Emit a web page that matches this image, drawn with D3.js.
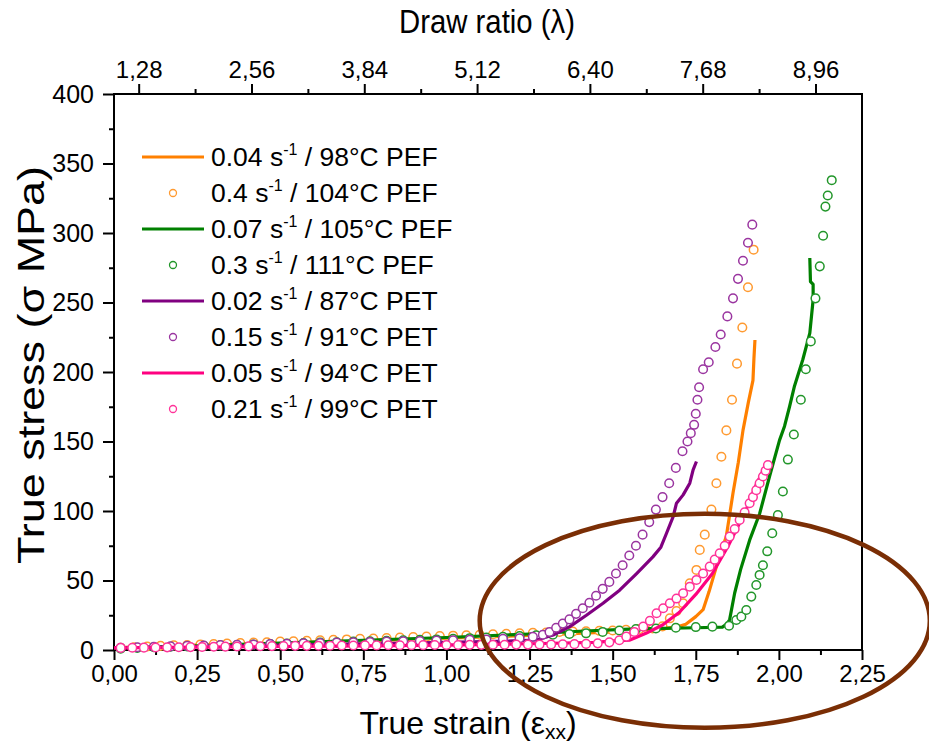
<!DOCTYPE html>
<html>
<head>
<meta charset="utf-8">
<script src="https://cdn.jsdelivr.net/npm/d3@7/dist/d3.min.js"></script>
<style>
    body { margin: 0; background: #ffffff; }
    svg text { font-family: Arial, "Liberation Sans", sans-serif; fill: #000; }
</style>
</head>
<body>
<div id="chart"></div>
<script>
// ---- data: [true strain, true stress (MPa)] ----
let strainTicks = [0, 0.25, 0.5, 0.75, 1.0, 1.25, 1.5, 1.75, 2.0, 2.25];
let stressTicks = [0, 50, 100, 150, 200, 250, 300, 350, 400];
let drawRatioTicks = [1.28, 2.56, 3.84, 5.12, 6.40, 7.68, 8.96];

let legendRates = ["0.04", "0.4", "0.07", "0.3", "0.02", "0.15", "0.05", "0.21"];
let legendConditions = ["98°C PEF", "104°C PEF", "105°C PEF", "111°C PEF",
                        "87°C PET", "91°C PET", "94°C PET", "99°C PET"];

let pef004Line = [[0,1.5],[0.1,2.5],[0.25,3.5],[0.5,5],[0.75,6.5],[1.0,8.5],[1.25,10.5],[1.5,13],[1.6,14.5],
    [1.66,15.5],[1.70,17],[1.72,18.5],[1.75,24],[1.772,29],[1.79,42],[1.812,60],[1.842,82],[1.862,113],
    [1.878,135],[1.892,158],[1.908,178],[1.922,194],[1.925,210],[1.928,223]];

let pef04Circles = [[0.02,1.5],[0.06,2],[0.1,2.5],[0.14,3],[0.18,3.3],[0.22,3.6],[0.26,4],[0.3,4.3],[0.34,4.6],
    [0.38,5],[0.42,5.3],[0.46,5.6],[0.5,6],[0.54,6.3],[0.58,6.6],[0.62,7],[0.66,7.3],[0.7,7.6],[0.74,8],
    [0.78,8.3],[0.82,8.6],[0.86,9],[0.9,9.3],[0.94,9.6],[0.98,10],[1.02,10.3],[1.06,10.6],[1.1,11],[1.14,11.3],
    [1.18,11.6],[1.22,12],[1.26,12.3],[1.3,12.6],[1.34,13],[1.38,13.2],[1.42,13.5],[1.46,13.8],[1.5,14],
    [1.54,14.5],[1.58,15],[1.62,15.5],[1.65,17],[1.672,22.8],[1.692,28],[1.712,33.6],[1.732,48],[1.752,57.6],
    [1.762,72],[1.777,83],[1.797,101],[1.812,120],[1.827,139],[1.842,158],[1.859,180],[1.874,206],[1.89,232],
    [1.907,261],[1.924,288]];

let pef007Line = [[0,1.5],[0.25,3],[0.5,5],[0.75,7],[1.0,9],[1.25,11.5],[1.4,13.5],[1.55,15],[1.65,15.5],
    [1.75,16],[1.83,16.5],[1.845,19],[1.852,22],[1.867,41],[1.885,58],[1.912,79],[1.942,98],[1.972,125],
    [2.002,151],[2.017,161],[2.032,175],[2.047,190],[2.072,209],[2.093,228],[2.103,252],[2.103,263],
    [2.095,265],[2.093,282]];

let pef03Circles = [[0.02,1],[0.07,1.5],[0.12,2],[0.17,2.3],[0.22,2.6],[0.27,3],[0.32,3.3],[0.37,3.6],[0.42,4],
    [0.47,4.3],[0.52,4.6],[0.57,5],[0.62,5.3],[0.67,5.6],[0.72,6],[0.77,6.3],[0.82,6.6],[0.87,7],[0.92,7.3],
    [0.97,7.6],[1.02,8],[1.07,8.5],[1.12,9],[1.17,9.5],[1.22,10],[1.27,10.5],[1.32,11],[1.37,11.5],[1.42,12],
    [1.47,13],[1.52,14],[1.57,15],[1.63,15.5],[1.69,16],[1.75,16.5],[1.8,16.8],[1.85,17.5],[1.872,21.6],
    [1.887,24],[1.902,28.8],[1.917,38.4],[1.932,46.8],[1.942,54],[1.952,61],[1.965,71],[1.98,84],[1.997,97],
    [2.012,114],[2.027,137],[2.045,155],[2.066,180],[2.081,202],[2.096,222],[2.11,253],[2.123,276],
    [2.133,298],[2.14,319],[2.147,327],[2.159,338]];

let pet002Line = [[0,1.5],[0.25,2.5],[0.5,3.5],[0.75,4.5],[1.0,5.5],[1.2,6.5],[1.271,7.2],[1.321,10.8],
    [1.371,16.8],[1.421,25],[1.471,33.6],[1.521,43],[1.572,55],[1.621,67],[1.645,74],[1.662,84],[1.682,96],
    [1.692,105.6],[1.712,111.6],[1.732,120],[1.742,129.6],[1.752,135.6]];

let pet015Circles = [[0.02,1.5],[0.07,2],[0.12,2.3],[0.17,2.6],[0.22,3],[0.27,3.2],[0.32,3.5],[0.37,3.8],
    [0.42,4],[0.47,4.3],[0.52,4.5],[0.57,4.8],[0.62,5],[0.67,5.3],[0.72,5.5],[0.77,5.8],[0.82,6],[0.87,6.3],
    [0.92,6.5],[0.97,6.8],[1.02,7],[1.07,7.3],[1.12,7.5],[1.17,8],[1.22,8.5],[1.26,9.5],[1.29,11],[1.31,13],
    [1.33,16],[1.35,19],[1.37,22],[1.39,26],[1.41,30],[1.43,34],[1.45,39],[1.47,44],[1.49,49],[1.51,55],
    [1.53,61],[1.55,68],[1.57,75],[1.59,83],[1.61,92],[1.63,101],[1.65,110],[1.67,120],[1.69,131],[1.71,143],
    [1.725,150],[1.735,156],[1.745,162],[1.75,170],[1.755,180],[1.76,189],[1.772,202],[1.789,207],
    [1.809,218],[1.825,227],[1.845,240],[1.862,253],[1.877,267],[1.892,280],[1.907,293],[1.92,306]];

let pet005Line = [[0,1.5],[0.25,2],[0.5,2.5],[0.75,3],[1.0,3.5],[1.25,4.5],[1.45,5.5],[1.5,6.5],[1.55,7],
    [1.57,9],[1.6,12],[1.65,18],[1.7,27],[1.75,40],[1.8,55],[1.85,76],[1.9,100],[1.93,118],[1.95,128],
    [1.965,135]];

let pet021Circles = [[0.02,1.5],[0.055,1.6],[0.09,1.7],[0.125,1.8],[0.16,1.9],[0.195,2],[0.23,2.1],[0.265,2.2],
    [0.3,2.3],[0.335,2.4],[0.37,2.5],[0.405,2.6],[0.44,2.7],[0.475,2.8],[0.51,2.9],[0.545,3],[0.58,3],
    [0.615,3.1],[0.65,3.1],[0.685,3.2],[0.72,3.2],[0.755,3.3],[0.79,3.3],[0.825,3.4],[0.86,3.4],[0.895,3.5],
    [0.93,3.5],[0.965,3.6],[1.0,3.6],[1.035,3.6],[1.07,3.7],[1.105,3.7],[1.14,3.8],[1.175,3.8],[1.21,3.9],
    [1.245,3.9],[1.28,4],[1.315,4],[1.35,4.1],[1.385,4.2],[1.42,4.4],[1.455,4.8],[1.49,5.5],[1.52,7],
    [1.541,9.6],[1.565,13],[1.592,16.8],[1.612,21],[1.632,26.4],[1.652,30],[1.672,33.6],[1.692,37],
    [1.712,40.8],[1.732,45.5],[1.752,50.4],[1.772,55],[1.792,60],[1.807,65],[1.822,69.6],[1.837,75],
    [1.852,81.6],[1.867,87],[1.882,93.6],[1.897,99],[1.912,105.6],[1.922,110],[1.932,115],[1.942,120],
    [1.952,124.8],[1.96,129],[1.967,133]];

class StrainChart {
    constructor(parentElement) {
        this.parentElement = parentElement;
        this.series = [
            {data: pef004Line, type: "line", color: "#ff8000"},
            {data: pef04Circles, type: "circle", color: "#ff9a30"},
            {data: pef007Line, type: "line", color: "#008000"},
            {data: pef03Circles, type: "circle", color: "#22962a"},
            {data: pet002Line, type: "line", color: "#800080"},
            {data: pet015Circles, type: "circle", color: "#9a35a0"},
            {data: pet005Line, type: "line", color: "#ff0080"},
            {data: pet021Circles, type: "circle", color: "#ff3399"}
        ];
        this.initVis();
    }

    initVis() {
        let vis = this;
        vis.margin = {top: 94, right: 67, bottom: 94, left: 114};
        vis.width = 929 - vis.margin.left - vis.margin.right;
        vis.height = 744 - vis.margin.top - vis.margin.bottom;

        vis.svg = d3.select("#" + vis.parentElement).append("svg")
            .attr("width", 929)
            .attr("height", 744)
            .append("g")
            .attr("transform", `translate(${vis.margin.left}, ${vis.margin.top})`);

        vis.x = d3.scaleLinear().domain([0, 2.25]).range([0, vis.width]);
        vis.y = d3.scaleLinear().domain([0, 400]).range([vis.height, 0]);
        // draw ratio = exp(strain), shown on a linear top scale
        vis.xTop = d3.scaleLinear().domain([1, Math.exp(2.25)]).range([0, vis.width]);

        let fmt = d => d3.format(".2f")(d).replace(".", ",");
        let topMinor = drawRatioTicks.map(d => d + 0.64).filter(d => d < Math.exp(2.25));

        // minor ticks first
        vis.svg.append("g").attr("class", "minor")
            .attr("transform", `translate(0, ${vis.height})`)
            .call(d3.axisBottom(vis.x).tickValues(d3.range(0.125, 2.25, 0.25)).tickSize(5).tickFormat(""));
        vis.svg.append("g").attr("class", "minor")
            .call(d3.axisLeft(vis.y).tickValues(d3.range(25, 400, 50)).tickSize(5).tickFormat(""));
        vis.svg.append("g").attr("class", "minor")
            .call(d3.axisTop(vis.xTop).tickValues(topMinor).tickSize(5).tickFormat(""));

        vis.svg.append("g").attr("class", "axis")
            .attr("transform", `translate(0, ${vis.height})`)
            .call(d3.axisBottom(vis.x).tickValues(strainTicks).tickSize(10).tickSizeOuter(0).tickPadding(5).tickFormat(fmt));
        vis.svg.append("g").attr("class", "axis yaxis")
            .call(d3.axisLeft(vis.y).tickValues(stressTicks).tickSize(11).tickSizeOuter(0).tickPadding(9).tickFormat(d3.format("d")));
        vis.svg.append("g").attr("class", "axis")
            .call(d3.axisTop(vis.xTop).tickValues(drawRatioTicks).tickSize(10).tickSizeOuter(0).tickPadding(6).tickFormat(fmt));

        vis.svg.selectAll(".axis text, .minor text").style("font-size", "24px");
        vis.svg.selectAll(".yaxis text").style("font-size", "25px");
        vis.svg.selectAll(".axis path, .minor path").attr("stroke", "none");
        vis.svg.selectAll(".axis line, .minor line").attr("stroke", "#000").attr("stroke-width", 2);

        // frame
        vis.svg.append("rect")
            .attr("width", vis.width).attr("height", vis.height)
            .attr("fill", "none").attr("stroke", "#000").attr("stroke-width", 2);

        // curves
        let line = d3.line().x(d => vis.x(d[0])).y(d => vis.y(d[1]));
        vis.series.forEach(s => {
            if (s.type === "line") {
                vis.svg.append("path").datum(s.data)
                    .attr("d", line)
                    .attr("fill", "none")
                    .attr("stroke", s.color)
                    .attr("stroke-width", 3.2)
                    .attr("stroke-linejoin", "round");
            } else {
                vis.svg.append("g").selectAll("circle")
                    .data(s.data).enter()
                    .append("circle")
                    .attr("cx", d => vis.x(d[0]))
                    .attr("cy", d => vis.y(d[1]))
                    .attr("r", 4.3)
                    .attr("fill", "#fff")
                    .attr("stroke", s.color)
                    .attr("stroke-width", 1.5);
            }
        });

        // legend
        let legend = vis.svg.append("g").attr("transform", "translate(28, 63)");
        vis.series.forEach((s, i) => {
            let row = legend.append("g").attr("transform", `translate(0, ${i * 36})`);
            if (s.type === "line") {
                row.append("line").attr("x1", 0).attr("x2", 62)
                    .attr("stroke", s.color).attr("stroke-width", 3.2);
            } else {
                row.append("circle").attr("cx", 31).attr("r", 3.5)
                    .attr("fill", "#fff").attr("stroke", s.color).attr("stroke-width", 1.3);
            }
            let t = row.append("text").attr("x", 69).attr("y", 9).style("font-size", "26.5px");
            t.append("tspan").text(legendRates[i] + " s");
            t.append("tspan").attr("dy", -11).style("font-size", "16px").text("-1");
            t.append("tspan").attr("dy", 11).text(" / " + legendConditions[i]);
        });

        // highlight ellipse
        vis.svg.append("ellipse")
            .attr("cx", vis.x(1.777)).attr("cy", vis.y(21))
            .attr("rx", vis.x(0.677)).attr("ry", vis.height - vis.y(77))
            .attr("fill", "none").attr("stroke", "#7a2e05").attr("stroke-width", 4.5);

        // axis titles
        let xt = vis.svg.append("text")
            .attr("x", 354).attr("y", vis.height + 84)
            .attr("text-anchor", "middle").style("font-size", "32px");
        xt.append("tspan").text("True strain (ε");
        xt.append("tspan").attr("dy", 5).style("font-size", "21px").text("xx");
        xt.append("tspan").attr("dy", -5).text(")");

        vis.svg.append("text")
            .attr("transform", `translate(-70, 271) rotate(-90)`)
            .attr("text-anchor", "middle").style("font-size", "36px")
            .attr("textLength", 398).attr("lengthAdjust", "spacingAndGlyphs")
            .text("True stress (σ MPa)");

        vis.svg.append("text")
            .attr("x", vis.width / 2 - 1).attr("y", -61)
            .attr("text-anchor", "middle").style("font-size", "33px")
            .attr("textLength", 176).attr("lengthAdjust", "spacingAndGlyphs")
            .text("Draw ratio (λ)");
    }
}

new StrainChart("chart");
</script>
</body>
</html>
